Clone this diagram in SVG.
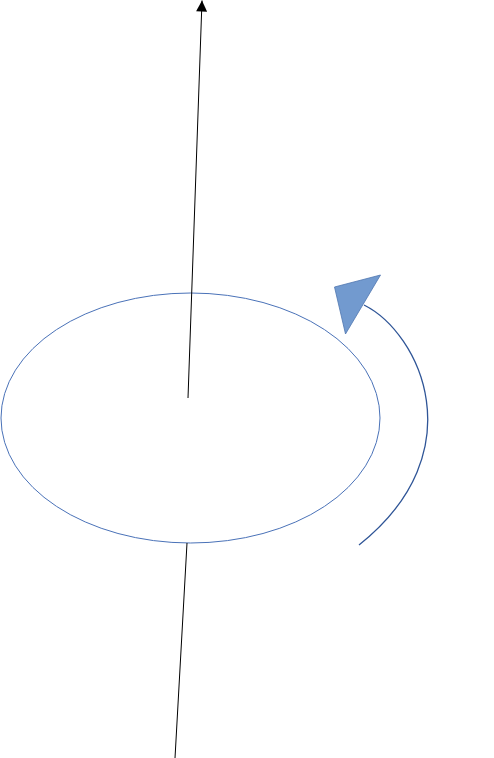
<svg xmlns="http://www.w3.org/2000/svg" width="494" height="758" viewBox="0 0 494 758">
<defs>
<style>
.axis{stroke:#000;stroke-width:1;fill:none}
.ring{stroke:#4A72B8;stroke-width:1;fill:none}
.turn{stroke:#2F5597;stroke-width:1.3;fill:none}
</style>
<marker id="ah" viewBox="0 0 10 10" refX="10" refY="5" markerWidth="17" markerHeight="11" markerUnits="userSpaceOnUse" orient="auto">
<path d="M0,0 L10,5 L0,10 Z" fill="#000"/>
</marker>
</defs>
<rect width="494" height="758" fill="#fff"/>
<g id="disc">
<ellipse class="ring" cx="190.5" cy="418" rx="189.5" ry="125"/>
</g>
<g id="connectors">
<line class="axis" x1="188" y1="398" x2="202" y2="0.5" marker-end="url(#ah)"/>
<line class="axis" x1="187" y1="543" x2="175" y2="758"/>
<path class="turn" d="M364,305 C420,333 476,452 359,545"/>
</g>
<g id="rotation-head">
<polygon points="334.5,287 380.5,275 345.5,334" fill="#729ACF" stroke="#4F76B0" stroke-width="0.8"/>
</g>
</svg>
